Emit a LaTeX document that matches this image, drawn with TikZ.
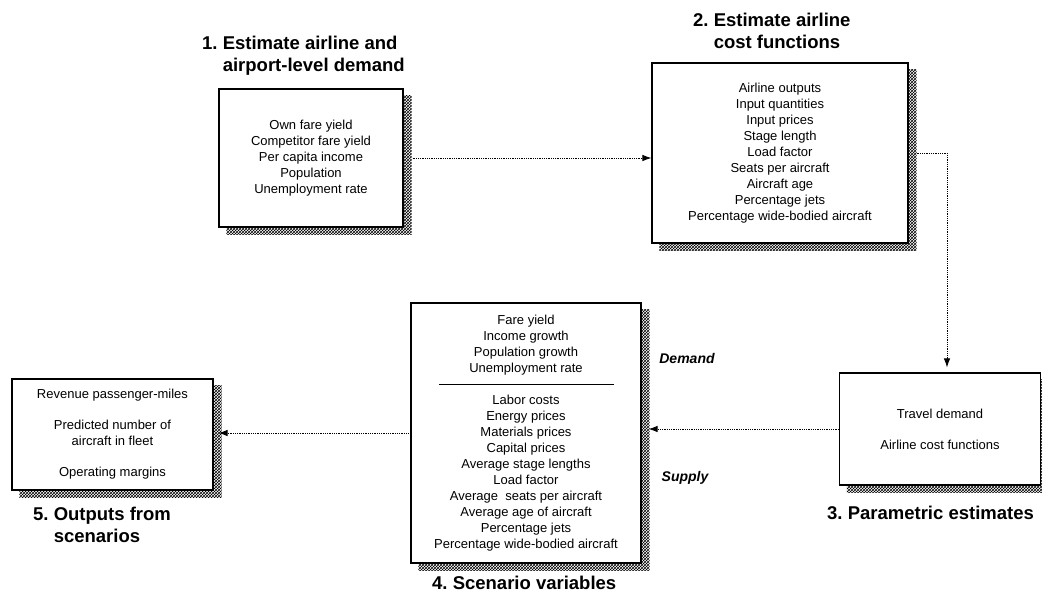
\documentclass[tikz,border=0pt]{standalone}
\usepackage{fontspec}
\setmainfont{Liberation Sans}
\usetikzlibrary{positioning,arrows.meta,patterns,backgrounds}
\frenchspacing

\begin{document}
\begin{tikzpicture}[x=1pt, y=-1pt,
  box/.style={rectangle, draw, line width=1.2pt, fill=white, align=center, inner sep=0pt, font=\fontsize{13}{16}\selectfont},
  title/.style={align=left, anchor=west, inner sep=0pt, font=\bfseries\fontsize{18.5}{22}\selectfont},
  side/.style={font=\bfseries\itshape\fontsize{14}{16}\selectfont},
  flow/.style={densely dotted, line width=0.8pt, -{Latex[length=9pt,width=6.5pt]}},
  shade/.style={pattern=crosshatch, pattern color=black}]

\useasboundingbox (0,0) rectangle (1042,598);

% Demand

\node[box, minimum width=184pt, minimum height=138pt] (DemandBox) at (311,158) {Own fare yield\\Competitor fare yield\\Per capita income\\Population\\Unemployment rate};
\node[title] (DemandTitle) at (202,56) {1. Estimate airline and\\\phantom{1. }airport-level demand};

% Cost functions

\node[box, minimum width=256pt, minimum height=180pt] (CostBox) at (780,153) {Airline outputs\\Input quantities\\Input prices\\Stage length\\Load factor\\Seats per aircraft\\Aircraft age\\Percentage jets\\Percentage wide-bodied aircraft};
\node[title] (CostTitle) at (693,31) {2. Estimate airline\\\phantom{2. }cost functions};

% Estimates

\node[box, minimum width=201pt, minimum height=112pt] (EstimateBox) at (940,429) {Travel demand\\[15pt]Airline cost functions};
\node[title] (EstimateTitle) at (827,513) {3. Parametric estimates};

% Scenarios

\node[box, minimum width=230pt, minimum height=260pt] (ScenarioBox) at (526,433) {Fare yield\\Income growth\\Population growth\\Unemployment rate\\\rule[3.5pt]{175pt}{1.2pt}\\Labor costs\\Energy prices\\Materials prices\\Capital prices\\Average stage lengths\\Load factor\\Average\ \ seats per aircraft\\Average age of aircraft\\Percentage jets\\Percentage wide-bodied aircraft};
\node[title] (ScenarioTitle) at (432,583) {4. Scenario variables};

\node[side] (DemandSide) at (687,358) {Demand};
\node[side] (SupplySide) at (685,478) {Supply};

% Outputs

\node[box, minimum width=201pt, minimum height=111pt] (OutputBox) at (112.5,434.5) {Revenue passenger-miles\\[15pt]Predicted number of\\aircraft in fleet\\[15pt]Operating margins};
\node[title] (OutputTitle) at (33,525) {5. Outputs from\\\phantom{5. }scenarios};

% Shadows

\begin{scope}[on background layer]
\foreach \b in {DemandBox,CostBox,EstimateBox,ScenarioBox,OutputBox}
  \fill[shade] ([shift={(8,7)}]\b.north west) rectangle ([shift={(8,7)}]\b.south east);
\end{scope}

% Flows

\draw[flow, shorten <=9pt] (DemandBox.east) -- (DemandBox.east -| CostBox.west);
\draw[flow, shorten <=8pt, shorten >=5pt] (CostBox.east) -| ([xshift=7pt]EstimateBox.north);
\draw[flow, shorten >=7pt] (EstimateBox.west) -- (EstimateBox.west -| ScenarioBox.east);
\draw[flow, shorten >=5pt] (ScenarioBox.west) -- (ScenarioBox.west -| OutputBox.east);

\end{tikzpicture}
\end{document}
